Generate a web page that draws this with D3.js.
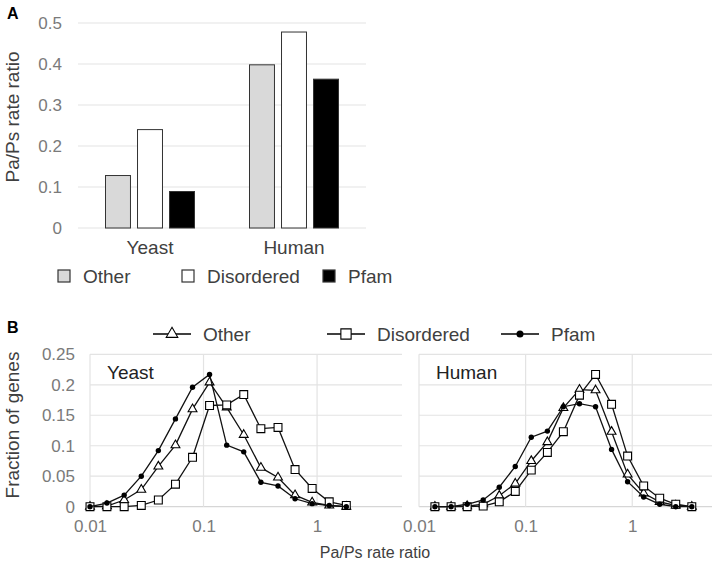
<!DOCTYPE html>
<html>
<head>
<meta charset="utf-8">
<script src="https://cdn.jsdelivr.net/npm/d3@7"></script>
<style>
  body { margin: 0; background: #fff; }
  svg { font-family: "Liberation Sans", Arial, sans-serif; }
</style>
</head>
<body>
<div id="chart"></div>
<script>
// panel A
const categories = ["Yeast", "Human"];
const seriesNames = ["Other", "Disordered", "Pfam"];
const barOther = [0.128, 0.398];
const barDisordered = [0.240, 0.478];
const barPfam = [0.089, 0.363];
const yTicksA = [0, 0.1, 0.2, 0.3, 0.4, 0.5];

// panel B
const binsYeast = [0.01, 0.0141, 0.02, 0.0283, 0.04, 0.0566, 0.08, 0.113, 0.16, 0.226, 0.32, 0.453, 0.64, 0.905, 1.28, 1.81];
const binsHuman = [0.0141, 0.02, 0.0283, 0.04, 0.0566, 0.08, 0.113, 0.16, 0.226, 0.32, 0.453, 0.64, 0.905, 1.28, 1.81, 2.56, 3.62];
const yeastOther = [0, 0.001, 0.011, 0.028, 0.066, 0.101, 0.160, 0.204, 0.163, 0.118, 0.064, 0.048, 0.019, 0.007, 0.002, 0];
const yeastDisordered = [0, 0, 0, 0.002, 0.011, 0.037, 0.081, 0.166, 0.167, 0.184, 0.128, 0.130, 0.061, 0.030, 0.008, 0.002];
const yeastPfam = [0, 0.006, 0.019, 0.050, 0.092, 0.144, 0.196, 0.217, 0.101, 0.090, 0.040, 0.034, 0.013, 0.005, 0.002, 0];
const humanOther = [0, 0, 0.001, 0.004, 0.018, 0.038, 0.075, 0.106, 0.162, 0.192, 0.191, 0.123, 0.053, 0.022, 0.008, 0.002, 0];
const humanDisordered = [0, 0, 0, 0.001, 0.008, 0.025, 0.060, 0.089, 0.123, 0.183, 0.217, 0.168, 0.083, 0.034, 0.014, 0.004, 0];
const humanPfam = [0, 0, 0.004, 0.011, 0.032, 0.066, 0.114, 0.124, 0.164, 0.169, 0.164, 0.094, 0.041, 0.016, 0.004, 0, 0];
const yTicksB = [0, 0.05, 0.1, 0.15, 0.2, 0.25];
const xTicksB = [0.01, 0.1, 1];

const grid = "#e3e3e3";
const tickColor = "#7a7a7a";
const textColor = "#404040";

const svg = d3.select("#chart").append("svg")
    .attr("width", 720)
    .attr("height", 564);

// ---------- A: bars ----------
const yA = d3.scaleLinear().domain([0, 0.5]).range([228, 23]);
const x0 = d3.scaleBand().domain(categories).range([78, 366]);
const x1 = d3.scaleBand().domain(seriesNames)
    .range([27.5, x0.bandwidth() - 27.5])
    .paddingInner(0.22);
const barFill = { Other: "#d9d9d9", Disordered: "#ffffff", Pfam: "#000000" };
const barVals = { Other: barOther, Disordered: barDisordered, Pfam: barPfam };

svg.append("text").attr("x", 7).attr("y", 19)
    .style("font-weight", "bold").style("font-size", "16px").text("A");

const gA = svg.append("g");
gA.selectAll("line.grid").data(yTicksA).enter().append("line")
    .attr("x1", 78).attr("x2", 366)
    .attr("y1", d => yA(d)).attr("y2", d => yA(d))
    .attr("stroke", grid).attr("stroke-width", 1.2);

const axA = gA.append("g").attr("transform", "translate(78,0)")
    .call(d3.axisLeft(yA).tickValues(yTicksA).tickFormat(d3.format("")).tickSize(0).tickPadding(16));
axA.select(".domain").remove();
axA.selectAll("text").attr("fill", tickColor).style("font-size", "17px")
    .style("font-family", "Liberation Sans, Arial, sans-serif");

categories.forEach((c, ci) => {
    seriesNames.forEach(s => {
        gA.append("rect")
            .attr("x", x0(c) + x1(s))
            .attr("y", yA(barVals[s][ci]))
            .attr("width", x1.bandwidth())
            .attr("height", yA(0) - yA(barVals[s][ci]))
            .attr("fill", barFill[s])
            .attr("stroke", "#333").attr("stroke-width", 1);
    });
    gA.append("text")
        .attr("x", x0(c) + x0.bandwidth() / 2).attr("y", 254)
        .attr("text-anchor", "middle").attr("fill", textColor)
        .style("font-size", "19px").text(c);
});

svg.append("text")
    .attr("transform", "rotate(-90)")
    .attr("x", -117).attr("y", 19)
    .attr("text-anchor", "middle").attr("fill", textColor)
    .style("font-size", "19px").text("Pa/Ps rate ratio");

const legA = [{ s: "Other", x: 58 }, { s: "Disordered", x: 182 }, { s: "Pfam", x: 323 }];
legA.forEach(l => {
    svg.append("rect").attr("x", l.x).attr("y", 270).attr("width", 12).attr("height", 12)
        .attr("fill", barFill[l.s]).attr("stroke", "#333").attr("stroke-width", 1.2);
    svg.append("text").attr("x", l.x + 25).attr("y", 283)
        .attr("fill", textColor).style("font-size", "19px").text(l.s);
});

// ---------- B: distributions ----------
svg.append("text").attr("x", 7).attr("y", 333)
    .style("font-weight", "bold").style("font-size", "16px").text("B");

const yB = d3.scaleLinear().domain([0, 0.25]).range([506.7, 354.3]);

const triangle = d3.symbol().type(d3.symbolTriangle);
const square = d3.symbol().type(d3.symbolSquare);

function drawMarker(g, type, x, y, size) {
    if (type === "Other") {
        g.append("path").attr("d", triangle.size(size * 0.34)())
            .attr("transform", `translate(${x},${y})`)
            .attr("fill", "#fff").attr("stroke", "#000").attr("stroke-width", 1.1);
    } else if (type === "Disordered") {
        g.append("path").attr("d", square.size(size * 0.62)())
            .attr("transform", `translate(${x},${y})`)
            .attr("fill", "#fff").attr("stroke", "#000").attr("stroke-width", 1.1);
    } else {
        g.append("circle").attr("cx", x).attr("cy", y).attr("r", Math.sqrt(size) * 0.27)
            .attr("fill", "#000");
    }
}

function drawPanel(x0px, x1px, bins, series, label, showY) {
    const x = d3.scaleLog().domain([0.01, 5.6]).range([x0px, x1px]);
    const g = svg.append("g");

    g.selectAll("line.h").data(yTicksB).enter().append("line")
        .attr("x1", x0px).attr("x2", x1px)
        .attr("y1", d => yB(d)).attr("y2", d => yB(d))
        .attr("stroke", d => d === 0 ? "#d6d6d6" : grid).attr("stroke-width", 1.2);
    g.selectAll("line.v").data(xTicksB).enter().append("line")
        .attr("x1", d => x(d)).attr("x2", d => x(d))
        .attr("y1", yB(0.25)).attr("y2", yB(0))
        .attr("stroke", grid).attr("stroke-width", 1.2);

    const ax = g.append("g").attr("transform", `translate(0,${yB(0)})`)
        .call(d3.axisBottom(x).tickValues(xTicksB).tickFormat(d3.format("")).tickSize(0).tickPadding(13));
    ax.select(".domain").remove();
    ax.selectAll("text").attr("fill", tickColor).style("font-size", "17px")
        .style("font-family", "Liberation Sans, Arial, sans-serif");

    if (showY) {
        const ay = g.append("g").attr("transform", `translate(${x0px},0)`)
            .call(d3.axisLeft(yB).tickValues(yTicksB).tickFormat(d3.format("")).tickSize(0).tickPadding(15));
        ay.select(".domain").remove();
        ay.selectAll("text").attr("fill", tickColor).style("font-size", "17px")
            .style("font-family", "Liberation Sans, Arial, sans-serif");
    }

    g.append("text").attr("x", x0px + 17).attr("y", 379)
        .attr("fill", "#222").style("font-size", "19px").text(label);

    const line = d3.line().x((d, i) => x(bins[i])).y(d => yB(d));
    series.forEach(s => {
        g.append("path").datum(s.values)
            .attr("d", line)
            .attr("fill", "none").attr("stroke", "#111").attr("stroke-width", 1.3);
        s.values.forEach((v, i) => drawMarker(g, s.name, x(bins[i]), yB(v), 100));
    });
}

drawPanel(90, 402, binsYeast, [
    { name: "Other", values: yeastOther },
    { name: "Disordered", values: yeastDisordered },
    { name: "Pfam", values: yeastPfam }
], "Yeast", true);

drawPanel(419, 712, binsHuman, [
    { name: "Other", values: humanOther },
    { name: "Disordered", values: humanDisordered },
    { name: "Pfam", values: humanPfam }
], "Human", false);

svg.append("text")
    .attr("transform", "rotate(-90)")
    .attr("x", -425).attr("y", 19)
    .attr("text-anchor", "middle").attr("fill", textColor)
    .style("font-size", "19px").text("Fraction of genes");

svg.append("text")
    .attr("x", 375).attr("y", 558)
    .attr("text-anchor", "middle").attr("fill", textColor)
    .style("font-size", "16px").text("Pa/Ps rate ratio");

const legB = [{ s: "Other", x: 153 }, { s: "Disordered", x: 327 }, { s: "Pfam", x: 501 }];
const lg = svg.append("g");
legB.forEach(l => {
    lg.append("line").attr("x1", l.x).attr("x2", l.x + 38)
        .attr("y1", 334).attr("y2", 334)
        .attr("stroke", "#000").attr("stroke-width", 1.6);
    drawMarker(lg, l.s, l.x + 19, 334, 170);
    lg.append("text").attr("x", l.x + 50).attr("y", 341)
        .attr("fill", textColor).style("font-size", "19px").text(l.s);
});
</script>
</body>
</html>
